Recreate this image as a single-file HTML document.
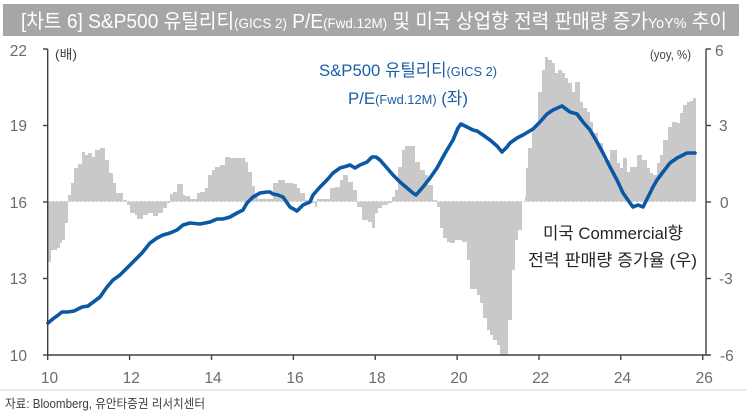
<!DOCTYPE html>
<html>
<head>
<meta charset="utf-8">
<style>
html,body{margin:0;padding:0;background:#fff;}
body{width:746px;height:414px;overflow:hidden;}
svg{display:block;}
text{font-family:"Liberation Sans","Noto Sans CJK KR",sans-serif;}
</style>
</head>
<body>
<svg width="746" height="414" viewBox="0 0 746 414" xmlns="http://www.w3.org/2000/svg">
  <!-- Title bar -->
  <rect x="3" y="4" width="736" height="32" fill="#a6a6a6"/>
  <text x="21" y="28" fill="#ffffff" font-size="20" textLength="706" lengthAdjust="spacingAndGlyphs">[차트 6] S&amp;P500 유틸리티<tspan font-size="14">(GICS 2)</tspan> P/E<tspan font-size="14">(Fwd.12M)</tspan> 및 미국 상업향 전력 판매량 증가<tspan font-size="15">YoY%</tspan> 추이</text>

  <!-- zero dotted line -->
  <line x1="48" y1="201.5" x2="696" y2="201.5" stroke="#d0d0d0" stroke-width="1" stroke-dasharray="2,2"/>

  <!-- Bars -->
  <path fill="#c9c9c9" d="M48,201.5 V261.7 H51 V250 H57 V248 H60 V243 H62 V240 H65 V223 H68 V195 H71 V183 H74 V168 H78 V164 H82 V152 H85 V155 H88 V153 H92 V157 H95 V150 H100 V148 H105 V160 H109 V173 H113 V183 H116 V193 H123 V200 H127 V205 H130 V213 H135 V215 H137 V219 H143 V215 H148 V213 H153 V216 H158 V213 H163 V208 H167 V203 H170 V194 H173 V192 H177 V184 H183 V195 H185 V196 H190 V199 H197 V193 H200 V192 H205 V188 H208 V175 H212 V170 H215 V167 H220 V165 H225 V157 H230 V158 H245 V162 H248 V172 H252 V186 H255 V197 H258 V199 H273 V183 H278 V180 H285 V183 H293 V184 H297 V188 H300 V193 H305 V200 H312 V203 H315 V207 H317 V199 H330 V188 H335 V187 H340 V180 H343 V175 H348 V182 H353 V190 H357 V207 H362 V220 H368 V222 H372 V228 H375 V213 H378 V208 H382 V205 H388 V203 H392 V197 H395 V190 H398 V167 H402 V150 H405 V146 H415 V162 H420 V170 H425 V175 H428 V185 H433 V200 H437 V207 H440 V228 H443 V238 H447 V242 H450 V243 H455 V240 H462 V242 H467 V260 H470 V289 H477 V295 H480 V303 H483 V318 H487 V330 H490 V335 H493 V340 H497 V345 H500 V355 H508 V320 H512 V270 H515 V240 H518 V230 H522 V201.5 H525 V197 H526 V168 H528 V148 H532 V127 H538 V92 H542 V70 H545 V57 H548 V60 H552 V63 H555 V73 H558 V70 H562 V73 H565 V78 H568 V83 H572 V92 H575 V82 H580 V102 H583 V108 H587 V112 H590 V122 H593 V133 H598 V143 H603 V160 H610 V150 H617 V163 H620 V168 H623 V158 H627 V172 H630 V167 H637 V155 H642 V160 H647 V168 H650 V173 H653 V175 H657 V163 H660 V155 H663 V140 H668 V127 H672 V122 H677 V123 H680 V113 H683 V105 H687 V102 H690 V101 H693 V98 H696 V201.5 Z"/>

  <!-- Blue line -->
  <polyline fill="none" stroke="#0b58a4" stroke-width="3.6" stroke-linejoin="round" stroke-linecap="round"
    points="48,323 54,318 57,316 62,312 68,312 74,311 78,309 82,307 88,306 92,303 100,297 107,287 113,280 120,275 128,267 135,260 142,253 150,243 157,238 163,235 170,233 177,230 183,225 190,223 200,224 210,222 217,219 223,219 230,217 237,213 243,210 247,203 253,197 260,193 267,192 270,192 273,194 278,195 283,197 290,207 297,211 303,205 310,202 313,195 320,187 327,180 333,173 340,168 347,166 350,165 355,168 360,165 367,162 372,157 376,157 380,160 387,168 393,175 400,182 407,188 413,193 416,195 423,187 430,178 437,168 443,157 447,150 453,140 458,128 461,124 467,127 473,130 477,131 483,135 490,140 497,146 502,152 507,147 510,143 517,138 523,135 533,129 540,122 547,114 553,110 562,106 570,112 577,114 583,122 590,130 597,142 603,153 610,167 617,180 623,193 630,203 633,207 638,205 643,207 648,197 653,187 657,180 663,172 670,163 677,158 683,155 687,153 695,153"/>

  <!-- Axes -->
  <g stroke="#404040" stroke-width="1.4" fill="none">
    <line x1="47.7" y1="49" x2="47.7" y2="360"/>
    <line x1="47.7" y1="355" x2="711" y2="355"/>
    <line x1="706" y1="49" x2="706" y2="355"/>
    <line x1="43" y1="49" x2="47.7" y2="49"/>
    <line x1="43" y1="125.5" x2="47.7" y2="125.5"/>
    <line x1="43" y1="202" x2="47.7" y2="202"/>
    <line x1="43" y1="278.5" x2="47.7" y2="278.5"/>
    <line x1="43" y1="355" x2="47.7" y2="355"/>
    <line x1="706" y1="49" x2="711" y2="49"/>
    <line x1="706" y1="125.5" x2="711" y2="125.5"/>
    <line x1="706" y1="202" x2="711" y2="202"/>
    <line x1="706" y1="278.5" x2="711" y2="278.5"/>
    <line x1="129.6" y1="355" x2="129.6" y2="360"/>
    <line x1="211.5" y1="355" x2="211.5" y2="360"/>
    <line x1="293.4" y1="355" x2="293.4" y2="360"/>
    <line x1="375.2" y1="355" x2="375.2" y2="360"/>
    <line x1="457.1" y1="355" x2="457.1" y2="360"/>
    <line x1="539" y1="355" x2="539" y2="360"/>
    <line x1="620.8" y1="355" x2="620.8" y2="360"/>
    <line x1="702.7" y1="355" x2="702.7" y2="360"/>
  </g>

  <!-- Left y labels -->
  <g fill="#6b6b6b" font-size="15.5" text-anchor="end">
    <text x="27" y="56">22</text>
    <text x="27" y="131">19</text>
    <text x="27" y="208">16</text>
    <text x="27" y="284">13</text>
    <text x="27" y="361">10</text>
  </g>
  <!-- Right y labels -->
  <g fill="#6b6b6b" font-size="15.5" text-anchor="start">
    <text x="715" y="56">6</text>
    <text x="719" y="131">3</text>
    <text x="720" y="208">0</text>
    <text x="719" y="284">-3</text>
    <text x="720" y="361">-6</text>
  </g>
  <!-- X labels -->
  <g fill="#6b6b6b" font-size="15.5" text-anchor="middle">
    <text x="49.5" y="383">10</text>
    <text x="131.3" y="383">12</text>
    <text x="213" y="383">14</text>
    <text x="295" y="383">16</text>
    <text x="377" y="383">18</text>
    <text x="459" y="383">20</text>
    <text x="540.7" y="383">22</text>
    <text x="622.5" y="383">24</text>
    <text x="704.3" y="383">26</text>
  </g>

  <!-- unit labels -->
  <text x="55" y="59" fill="#404040" font-size="13" textLength="22" lengthAdjust="spacingAndGlyphs">(배)</text>
  <text x="650" y="59" fill="#404040" font-size="13" textLength="41" lengthAdjust="spacingAndGlyphs">(yoy, %)</text>

  <!-- Blue annotation -->
  <text x="319" y="76" fill="#1b5ea9" font-size="17" textLength="178" lengthAdjust="spacingAndGlyphs">S&amp;P500 유틸리티<tspan font-size="13">(GICS 2)</tspan></text>
  <text x="348" y="104" fill="#1b5ea9" font-size="17" textLength="120" lengthAdjust="spacingAndGlyphs">P/E<tspan font-size="13">(Fwd.12M)</tspan> (좌)</text>

  <!-- Black annotation -->
  <text x="543" y="239" fill="#262626" font-size="17" textLength="140" lengthAdjust="spacingAndGlyphs">미국 Commercial향</text>
  <text x="528" y="266" fill="#262626" font-size="17" textLength="169" lengthAdjust="spacingAndGlyphs">전력 판매량 증가율 (우)</text>

  <!-- Footer -->
  <line x1="0" y1="390" x2="746" y2="390" stroke="#c6d9ec" stroke-width="1"/>
  <text x="5" y="408" fill="#404040" font-size="12.5" textLength="200" lengthAdjust="spacingAndGlyphs">자료: Bloomberg, 유안타증권 리서치센터</text>
</svg>
</body>
</html>
